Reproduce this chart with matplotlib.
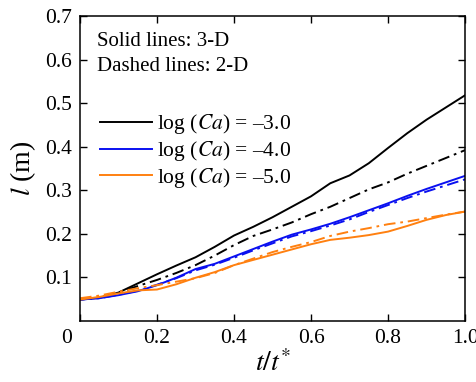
import numpy as np
import matplotlib
matplotlib.use('Agg')
import matplotlib.pyplot as plt
from matplotlib.transforms import ScaledTranslation

plt.rcParams['font.family'] = ['Liberation Serif', 'DejaVu Serif']
plt.rcParams['mathtext.fontset'] = 'stix'

# time axis t/t*
t = [0, .05, .1, .15, .2, .25, .3, .35, .4, .45, .5,
     .55, .6, .65, .7, .75, .8, .85, .9, .95, 1.0]

# 3-D (solid)
l3_m3 = [.049, .053, .065, .086, .107, .127, .146, .170, .196, .216, .238,
         .262, .286, .316, .334, .362, .397, .431, .462, .490, .518]
l3_m4 = [.049, .052, .059, .068, .082, .099, .119, .131, .148, .165, .182,
         .198, .210, .223, .238, .254, .270, .287, .303, .318, .333]
l3_m5 = [.049, .055, .063, .070, .072, .084, .099, .112, .128, .140, .152,
         .164, .176, .186, .191, .197, .205, .218, .232, .243, .251]

# 2-D (dash-dot)
l2_m3 = [.049, .053, .065, .080, .094, .110, .128, .150, .174, .195, .210,
         .226, .245, .262, .282, .302, .318, .338, .356, .374, .392]
l2_m4 = [.049, .052, .060, .069, .083, .098, .116, .129, .145, .162, .178,
         .194, .206, .219, .233, .250, .266, .282, .297, .311, .325]
l2_m5 = [.052, .058, .067, .075, .082, .090, .098, .110, .128, .143, .158,
         .170, .181, .195, .205, .213, .222, .228, .236, .244, .251]

labels = ['log ($\\mathit{Ca}$) = \u20133.0', 'log ($\\mathit{Ca}$) = \u20134.0',
          'log ($\\mathit{Ca}$) = \u20135.0']
colors = ['black', '#0a10f0', '#ff8010']

fig = plt.figure(figsize=(4.76, 3.82), dpi=100)
ax = fig.add_axes([0.168, 0.160, 0.809, 0.798])

dd = (0, (6, 2.5, 1.4, 2.5))
handles = []
for ys, yd, c, lab in zip([l3_m3, l3_m4, l3_m5], [l2_m3, l2_m4, l2_m5], colors, labels):
    h, = ax.plot(t, ys, color=c, lw=1.4, label=lab)
    ax.plot(t, yd, color=c, lw=1.4, linestyle=dd)
    handles.append(h)

ax.set_xlim(0, 1.0)
ax.set_ylim(0, 0.7)
ax.set_xticks([0, 0.2, 0.4, 0.6, 0.8, 1.0])
ax.set_xticklabels(['0', '0.2', '0.4', '0.6', '0.8', '1.0'])
ax.set_yticks([0.1, 0.2, 0.3, 0.4, 0.5, 0.6, 0.7])
ax.tick_params(direction='in', top=True, right=True, length=5, width=1,
               labelsize=15.5, pad=6)
for s in ax.spines.values():
    s.set_linewidth(1.1)

lab0 = ax.get_xticklabels()[0]
lab0.set_transform(lab0.get_transform() + ScaledTranslation(-0.13, 0, fig.dpi_scale_trans))

ax.set_xlabel('$t/t^{*}$', fontsize=20, labelpad=1)
ax.set_ylabel('$l$ (m)', fontsize=20, labelpad=5)

ax.text(0.043, 0.915, 'Solid lines: 3-D', transform=ax.transAxes, fontsize=15, va='center')
ax.text(0.043, 0.833, 'Dashed lines: 2-D', transform=ax.transAxes, fontsize=15, va='center')

ax.legend(handles=handles, loc='upper left', bbox_to_anchor=(0.052, 0.684),
          frameon=False, fontsize=15.5, handlelength=2.4, handletextpad=0.25,
          labelspacing=0.13, borderaxespad=0, borderpad=0)

fig.savefig('out.png', dpi=100)
